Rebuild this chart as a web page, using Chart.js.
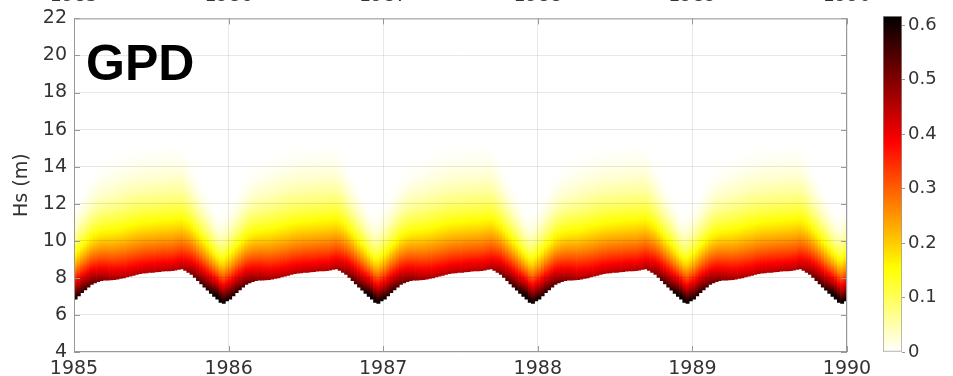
<!DOCTYPE html>
<html>
<head>
<meta charset="utf-8">
<script src="https://cdn.jsdelivr.net/npm/chart.js@4/dist/chart.umd.min.js"></script>
<style>
  body { margin: 0; background: #fff; }
  #wrap { position: relative; width: 953px; height: 376px; overflow: hidden; }
  #main { position: absolute; left: 0; top: 0; }
  #cbar { position: absolute; left: 860px; top: 0; }
</style>
</head>
<body>
<div id="wrap">
  <canvas id="main" width="953" height="376"></canvas>
  <canvas id="cbar" width="93" height="376"></canvas>
</div>
<script>
// years on the time axis, one seasonal cycle per year
var years = [1985, 1986, 1987, 1988, 1989];
var xTicks = [1985, 1986, 1987, 1988, 1989, 1990];
var yTicks = [4, 6, 8, 10, 12, 14, 16, 18, 20, 22];
var cbarTicks = [0, 0.1, 0.2, 0.3, 0.4, 0.5, 0.6];

// GPD parameters through the year, 48 steps per year
var stepsPerYear = 48;
var hsThreshold = [
  6.85, 7.02, 7.20, 7.35, 7.50, 7.65, 7.73, 7.80, 7.85, 7.87, 7.88, 7.89,
  7.90, 7.93, 7.97, 8.00, 8.05, 8.09, 8.13, 8.18, 8.22, 8.25, 8.27, 8.29,
  8.30, 8.32, 8.34, 8.36, 8.37, 8.38, 8.39, 8.42, 8.45, 8.48, 8.40, 8.30,
  8.18, 8.02, 7.85, 7.67, 7.50, 7.33, 7.16, 7.00, 6.85, 6.68, 6.62, 6.75
];
var gpdScale = [
  1.65, 1.68, 1.72, 1.77, 1.82, 1.87, 1.92, 1.96, 2.00, 2.03, 2.06, 2.09,
  2.11, 2.13, 2.15, 2.17, 2.18, 2.19, 2.20, 2.20, 2.20, 2.20, 2.20, 2.20,
  2.20, 2.20, 2.20, 2.20, 2.20, 2.20, 2.20, 2.20, 2.18, 2.15, 2.10, 2.04,
  1.97, 1.90, 1.84, 1.78, 1.73, 1.69, 1.62, 1.55, 1.50, 1.52, 1.58, 1.62
];
var gpdShape = -0.3;
var densityMax = 0.617;

var columns = [];
for (let yr of years) {
  for (let k = 0; k < stepsPerYear; k++) {
    columns.push({ x: yr + (k + 0.5) / stepsPerYear, u: hsThreshold[k], sigma: gpdScale[k] });
  }
}

var span = 10;      // height (m) above threshold that each column covers
var nStops = 40;

function gpdPdf(d, sigma, xi) {
  var z = 1 + xi * d / sigma;
  if (z <= 0) return 0;
  return Math.pow(z, -1 / xi - 1) / sigma;
}

function clamp01(v) { return Math.max(0, Math.min(1, v)); }

// flipped "hot" colormap: white -> yellow -> red -> black
function hotColor(v) {
  var s = 1 - clamp01(v / densityMax);
  var r = clamp01(s / 0.375), g = clamp01((s - 0.375) / 0.375), b = clamp01((s - 0.75) / 0.25);
  return 'rgb(' + Math.round(r * 255) + ',' + Math.round(g * 255) + ',' + Math.round(b * 255) + ')';
}

function columnFill(ctx) {
  var chart = ctx.chart;
  if (!chart.chartArea || ctx.dataIndex === undefined) return '#ffffff';
  var c = columns[ctx.dataIndex];
  var ys = chart.scales.y;
  var g = chart.ctx.createLinearGradient(0, ys.getPixelForValue(c.u), 0, ys.getPixelForValue(c.u + span));
  for (let j = 0; j <= nStops; j++) {
    g.addColorStop(j / nStops, hotColor(gpdPdf(span * j / nStops, c.sigma, gpdShape)));
  }
  return g;
}

var tickFont = { family: '"DejaVu Sans", sans-serif', size: 19 };
var textColor = '#333333';

var framePlugin = {
  id: 'frame',
  afterDraw(chart) {
    var ctx = chart.ctx, a = chart.chartArea, xs = chart.scales.x, ys = chart.scales.y;
    ctx.save();
    ctx.strokeStyle = '#999999';
    ctx.lineWidth = 1;
    ctx.strokeRect(a.left + 0.5, a.top + 0.5, a.right - a.left - 1, a.bottom - a.top - 1);
    ctx.beginPath();
    xTicks.forEach(function (v) {
      var px = Math.round(xs.getPixelForValue(v)) + 0.5;
      ctx.moveTo(px, a.bottom); ctx.lineTo(px, a.bottom - 6);
      ctx.moveTo(px, a.top); ctx.lineTo(px, a.top + 6);
    });
    yTicks.forEach(function (v) {
      var py = Math.round(ys.getPixelForValue(v)) + 0.5;
      ctx.moveTo(a.left, py); ctx.lineTo(a.left + 6, py);
      ctx.moveTo(a.right, py); ctx.lineTo(a.right - 6, py);
    });
    ctx.stroke();

    ctx.fillStyle = '#000000';
    ctx.font = 'bold 50px "Liberation Sans", Arial, sans-serif';
    ctx.textAlign = 'left';
    ctx.textBaseline = 'alphabetic';
    ctx.fillText('GPD', 86, 80);

    // year labels of the panel above, cut by the top edge
    ctx.fillStyle = textColor;
    ctx.font = '19px "DejaVu Sans", sans-serif';
    ctx.textAlign = 'center';
    xTicks.forEach(function (v) {
      ctx.fillText(String(v), xs.getPixelForValue(v), 1);
    });
    ctx.restore();
  }
};

new Chart(document.getElementById('main'), {
  type: 'bar',
  data: {
    datasets: [{
      data: columns.map(function (c) { return { x: c.x, y: [c.u, c.u + span] }; }),
      backgroundColor: columnFill,
      borderWidth: 0,
      barPercentage: 1,
      categoryPercentage: 1
    }]
  },
  options: {
    responsive: false,
    animation: false,
    events: [],
    layout: { padding: { top: 16, right: 106 } },
    plugins: { legend: { display: false }, tooltip: { enabled: false } },
    scales: {
      x: {
        type: 'linear', min: 1985, max: 1990, offset: false,
        afterBuildTicks: function (s) { s.ticks = xTicks.map(function (v) { return { value: v }; }); },
        afterFit: function (s) { s.height = 24; },
        grid: { offset: false, z: 1, color: 'rgba(0,0,0,0.09)', drawTicks: false },
        border: { display: false },
        ticks: { font: tickFont, color: textColor, padding: 6, maxRotation: 0,
                 callback: function (v) { return String(v); } }
      },
      y: {
        min: 4, max: 22,
        afterBuildTicks: function (s) { s.ticks = yTicks.map(function (v) { return { value: v }; }); },
        afterFit: function (s) { s.width = 74; },
        grid: { z: 1, color: 'rgba(0,0,0,0.09)', drawTicks: false },
        border: { display: false },
        ticks: { font: tickFont, color: textColor, padding: 7,
                 callback: function (v) { return String(v); } },
        title: { display: true, text: 'Hs (m)', color: textColor,
                 font: { family: '"DejaVu Sans", sans-serif', size: 19 }, padding: { top: 11, bottom: 0 } }
      }
    }
  },
  plugins: [framePlugin]
});

function cbarFill(ctx) {
  var chart = ctx.chart;
  if (!chart.chartArea) return '#ffffff';
  var ys = chart.scales.y;
  var g = chart.ctx.createLinearGradient(0, ys.getPixelForValue(0), 0, ys.getPixelForValue(densityMax));
  for (let j = 0; j <= nStops; j++) {
    g.addColorStop(j / nStops, hotColor(densityMax * j / nStops));
  }
  return g;
}

new Chart(document.getElementById('cbar'), {
  type: 'bar',
  data: {
    labels: [''],
    datasets: [{
      data: [[0, densityMax]],
      backgroundColor: cbarFill,
      borderColor: '#999999',
      borderWidth: 1,
      borderSkipped: false,
      barPercentage: 1,
      categoryPercentage: 1
    }]
  },
  options: {
    responsive: false,
    animation: false,
    events: [],
    layout: { padding: { left: 23, top: 16, bottom: 24 } },
    plugins: { legend: { display: false }, tooltip: { enabled: false } },
    scales: {
      x: { display: false },
      y: {
        position: 'right', min: 0, max: densityMax,
        afterBuildTicks: function (s) { s.ticks = cbarTicks.map(function (v) { return { value: v }; }); },
        afterFit: function (s) { s.width = 51; },
        grid: { drawOnChartArea: false, drawTicks: true, tickLength: 3, color: '#999999' },
        border: { display: false },
        ticks: { font: { family: '"DejaVu Sans", sans-serif', size: 18 }, color: textColor, padding: 3,
                 callback: function (v) { return v === 0 ? '0' : v.toFixed(1); } }
      }
    }
  }
});
</script>
</body>
</html>
